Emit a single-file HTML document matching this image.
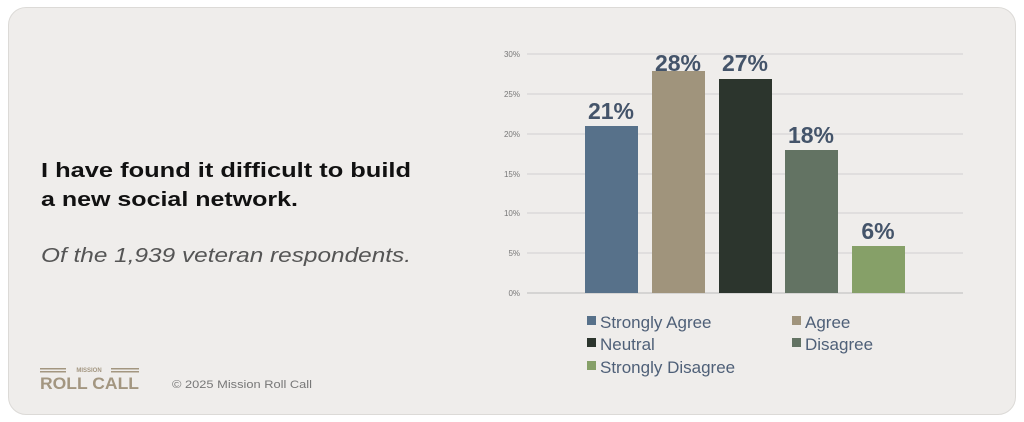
<!DOCTYPE html>
<html><head><style>
body{margin:0;width:1024px;height:422px;background:#fff;position:relative;overflow:hidden;font-family:"Liberation Sans",sans-serif}
.card{position:absolute;left:8px;top:7px;width:1006px;height:406px;background:#efedeb;border:1px solid #dcdad7;border-radius:18px}
</style></head><body>
<div class="card"></div>
<svg width="1024" height="422" style="position:absolute;left:0;top:0" font-family="Liberation Sans,sans-serif">
<text x="41" y="177" font-size="20" font-weight="bold" fill="#111" textLength="370" lengthAdjust="spacingAndGlyphs">I have found it difficult to build</text>
<text x="41" y="206" font-size="20" font-weight="bold" fill="#111" textLength="257" lengthAdjust="spacingAndGlyphs">a new social network.</text>
<text x="41" y="262" font-size="20" font-style="italic" fill="#555" textLength="370" lengthAdjust="spacingAndGlyphs">Of the 1,939 veteran respondents.</text>
<text x="172" y="388" font-size="11" fill="#777" textLength="140" lengthAdjust="spacingAndGlyphs">© 2025 Mission Roll Call</text>
<g fill="#a39680">
<rect x="40" y="368" width="26" height="1.5"/><rect x="40" y="371" width="26" height="1.5"/>
<rect x="111" y="368" width="28" height="1.5"/><rect x="111" y="371" width="28" height="1.5"/>
<text x="89" y="372" font-size="6" font-weight="bold" text-anchor="middle">MISSION</text>
<text x="40" y="389" font-size="17" font-weight="bold" textLength="99" lengthAdjust="spacingAndGlyphs">ROLL CALL</text>
</g>
<g stroke="#d0d0d0" stroke-width="1">
<line x1="527" x2="963" y1="54" y2="54"/><line x1="527" x2="963" y1="94" y2="94"/>
<line x1="527" x2="963" y1="134" y2="134"/><line x1="527" x2="963" y1="174" y2="174"/>
<line x1="527" x2="963" y1="213" y2="213"/><line x1="527" x2="963" y1="253" y2="253"/>
<line x1="527" x2="963" y1="293" y2="293" stroke="#bbb"/>
</g>
<g font-size="8" fill="#777" text-anchor="end">
<text x="520" y="57">30%</text><text x="520" y="97">25%</text><text x="520" y="137">20%</text>
<text x="520" y="177">15%</text><text x="520" y="216">10%</text><text x="520" y="256">5%</text><text x="520" y="296">0%</text>
</g>
<rect x="585" y="126" width="53" height="167" fill="#57718a"/>
<rect x="652" y="71" width="53" height="222" fill="#a0947c"/>
<rect x="719" y="79" width="53" height="214" fill="#2c352d"/>
<rect x="785" y="150" width="53" height="143" fill="#637363"/>
<rect x="852" y="246" width="53" height="47" fill="#86a068"/>
<g font-size="23" font-weight="bold" fill="#44546a" text-anchor="middle">
<text x="611" y="119">21%</text><text x="678" y="71">28%</text><text x="745" y="71">27%</text>
<text x="811" y="143">18%</text><text x="878" y="239">6%</text>
</g>
<g font-size="17" fill="#4f6078">
<rect x="587" y="316" width="9" height="9" fill="#57718a"/><text x="600" y="328">Strongly Agree</text>
<rect x="792" y="316" width="9" height="9" fill="#a0947c"/><text x="805" y="328">Agree</text>
<rect x="587" y="338" width="9" height="9" fill="#2c352d"/><text x="600" y="350">Neutral</text>
<rect x="792" y="338" width="9" height="9" fill="#637363"/><text x="805" y="350">Disagree</text>
<rect x="587" y="361" width="9" height="9" fill="#86a068"/><text x="600" y="373">Strongly Disagree</text>
</g>
</svg>
</body></html>
